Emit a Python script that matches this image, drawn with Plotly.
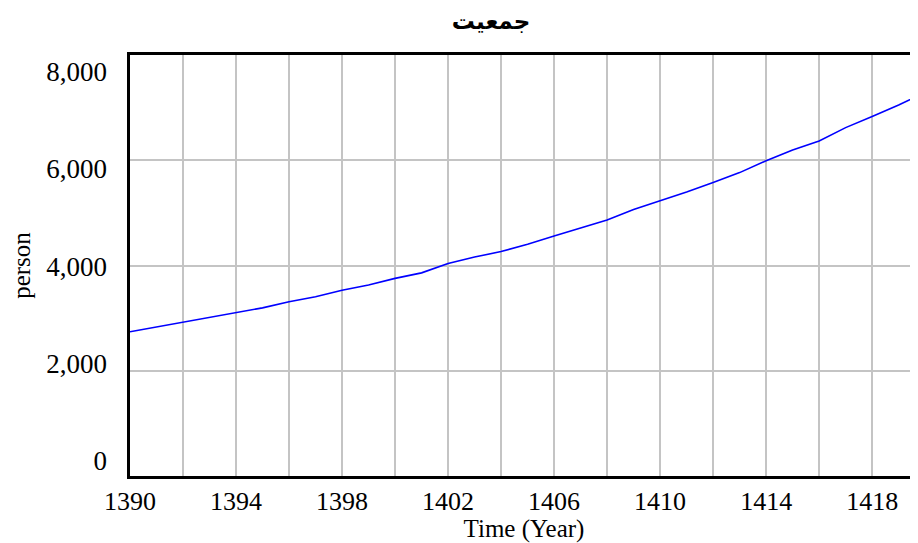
import plotly.graph_objects as go

# population simulation output (Vensim style chart)
years = list(range(1390, 1421))
population = [2740, 2830, 2925, 3010, 3100, 3195, 3310, 3405, 3530, 3630,
              3755, 3860, 4040, 4160, 4265, 4405, 4560, 4715, 4865, 5065,
              5225, 5395, 5575, 5765, 5990, 6195, 6365, 6620, 6830, 7050,
              7290]
y_ticks = [0, 2000, 4000, 6000, 8000]
y_tick_text = ["0", "2,000", "4,000", "6,000", "8,000"]
x_ticks = [1390, 1394, 1398, 1402, 1406, 1410, 1414, 1418]

serif = "Liberation Serif, Times New Roman, serif"

# page body has an 8px margin, so the figure is sized to fit the window
W, H = 910, 535

fig = go.Figure()
fig.add_trace(go.Scatter(
    x=years, y=population, mode="lines",
    line=dict(color="#0000ff", width=1.6),
    hoverinfo="x+y", showlegend=False,
))
# invisible trace to activate the label-only y axis
fig.add_trace(go.Scatter(x=[years[0]], y=[0], yaxis="y2", mode="markers",
                         marker=dict(opacity=0), showlegend=False, hoverinfo="skip"))

fig.update_layout(
    width=W, height=H,
    margin=dict(l=122, r=0, t=47, b=67, autoexpand=False),
    paper_bgcolor="white", plot_bgcolor="white",
    title=dict(text="<b>جمعیت</b>", x=483 / W, xref="container", xanchor="center",
               y=1 - 13 / H, yref="container", yanchor="middle",
               font=dict(family="DejaVu Sans", size=23, color="black")),
    font=dict(family=serif, color="black"),
    xaxis=dict(
        range=[1390, 1419.73], tickvals=x_ticks, ticks="",
        tickfont=dict(size=26, family=serif), ticklabelstandoff=0,
        showgrid=True, gridcolor="#c4c4c4", gridwidth=1.5,
        minor=dict(dtick=2, tick0=1390, showgrid=True, gridcolor="#c4c4c4", gridwidth=1.5),
        showline=True, linecolor="black", linewidth=3, mirror=True,
        zeroline=False, automargin=False,
        title=dict(text="Time (Year)", font=dict(size=25, family=serif), standoff=1),
    ),
    yaxis=dict(
        range=[0, 8000], tickvals=y_ticks, showticklabels=False, ticks="",
        showgrid=True, gridcolor="#c4c4c4", gridwidth=1.5,
        showline=True, linecolor="black", linewidth=3, mirror=False,
        zeroline=False, automargin=False,
    ),
    yaxis2=dict(
        overlaying="y", side="left", range=[-308, 8339],
        tickvals=y_ticks, ticktext=y_tick_text, ticks="",
        tickfont=dict(size=27, family=serif), ticklabelstandoff=22,
        showgrid=False, showline=False, zeroline=False, automargin=False,
        title=dict(text="person", font=dict(size=25, family=serif), standoff=24),
    ),
)

fig.write_html("out.html")
